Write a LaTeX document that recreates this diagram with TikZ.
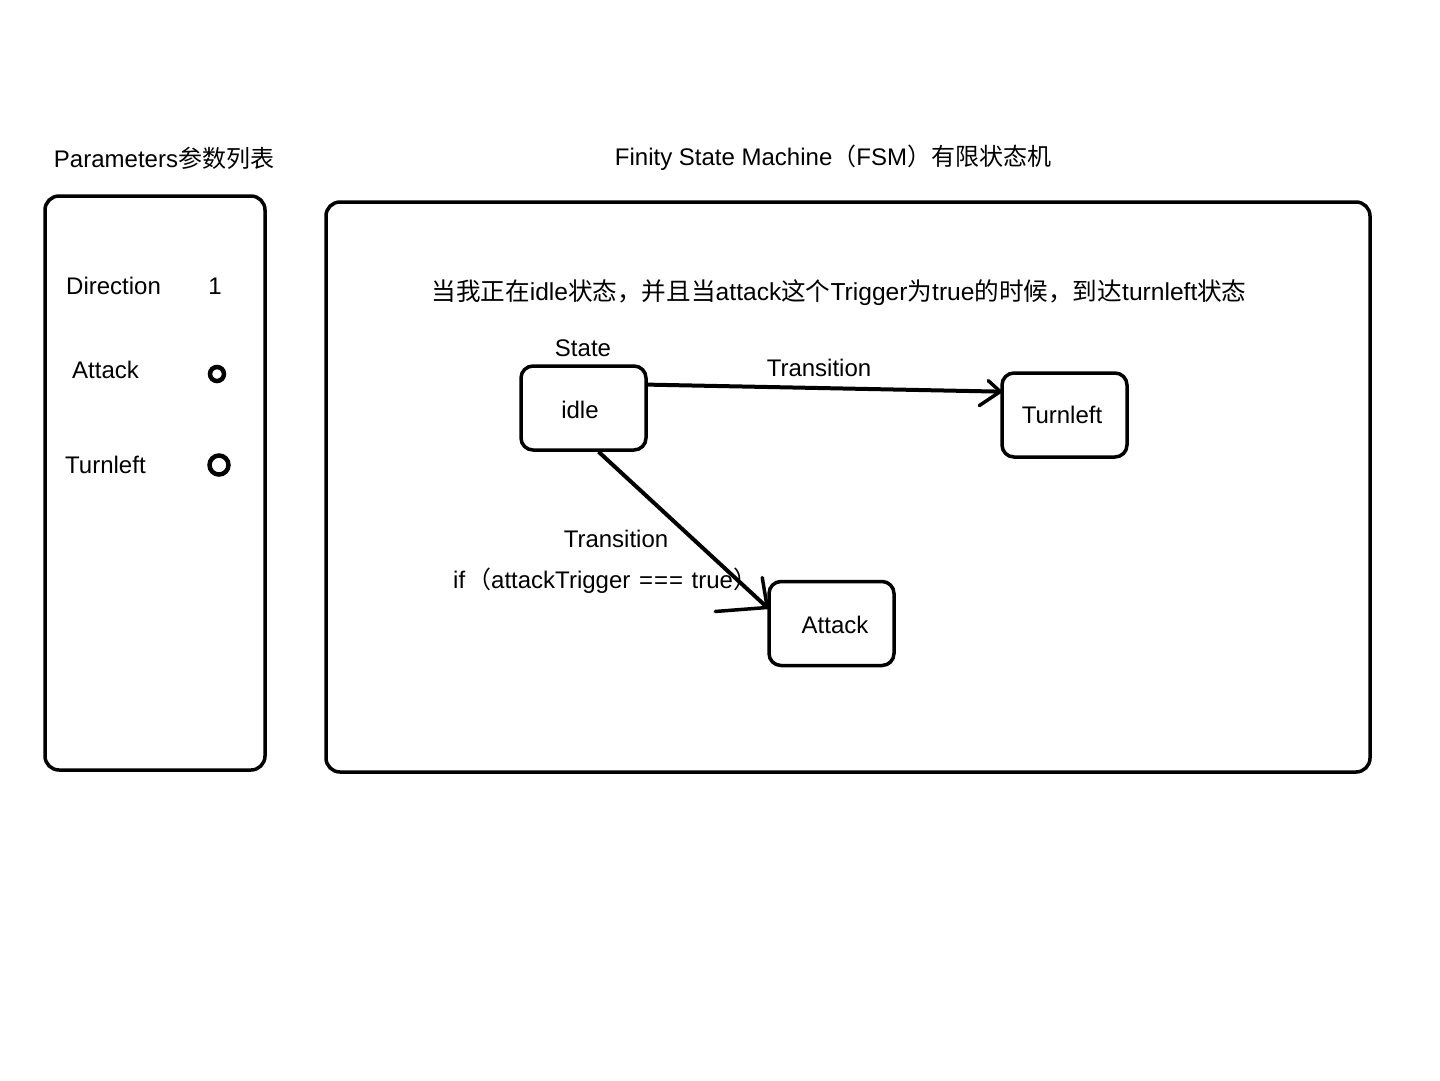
\documentclass[tikz,border=0pt]{standalone}
\usepackage{fontspec}
\setmainfont{Liberation Sans}
\newfontfamily\cjk{Noto Sans CJK SC}
\begin{document}
\begin{tikzpicture}[x=1pt,y=-1pt,
  panel/.style={draw, line width=3.5pt, rounded corners=14pt, inner sep=0pt},
  statebox/.style={draw, line width=3.5pt, rounded corners=12pt,
    minimum width=125pt, minimum height=84pt, inner sep=0pt},
  lbl/.style={font=\fontsize{24}{28}\selectfont, inner sep=0pt},
  link/.style={line width=4pt},
  barb/.style={line width=3.5pt, line cap=round},
  toggle/.style={draw, circle, line width=4.5pt, inner sep=0pt}]
\useasboundingbox[fill=white] (0,0) rectangle (1440,1080);

% titles
\node[lbl] (ptitle) at (164,158) {Parameters{\cjk 参数列表}};
\node[lbl] (ftitle) at (833,158) {Finity State Machine{\cjk （}FSM{\cjk ）有限状态机}};

% parameter panel
\node[panel, minimum width=220pt, minimum height=574pt] (params) at (155,483) {};
\node[lbl, anchor=west] (pdir) at (66,286) {Direction};
\node[lbl] (pdirv) at (215,286) {1};
\node[lbl, anchor=west] (patk) at (72,370) {Attack};
\node[toggle, minimum size=14pt] (patkv) at (217,374) {};
\node[lbl, anchor=west] (ptl) at (65,465) {Turnleft};
\node[toggle, minimum size=19pt] (ptlv) at (219,465) {};

% state machine panel
\node[panel, minimum width=1044pt, minimum height=570pt] (fsm) at (848,487) {};
\node[lbl, font=\fontsize{24.6}{28}\selectfont] (note) at (839,293)
  {{\cjk 当我正在}idle{\cjk 状态，并且当}attack{\cjk 这个}Trigger{\cjk 为}true{\cjk 的时候，到达}turnleft{\cjk 状态}};

% states
\node[statebox] (idle) at (583.5,408) {};
\node[lbl] (idletxt) at (580,410) {idle};
\node[lbl] (statelbl) at (583,348) {State};
\node[statebox] (tl) at (1064.5,415) {};
\node[lbl] (tltxt) at (1062,415) {Turnleft};
\node[statebox] (atk) at (831.5,623.5) {};
\node[lbl] (atktxt) at (835,625) {Attack};

% transition idle -> Turnleft
\draw[link] (idle.20) -- (tl.160);
\draw[barb] (tl.160) -- ++(-12,-11);
\draw[barb] (tl.160) -- ++(-21,14);
\node[lbl] (t1) at (819,368) {Transition};

% transition idle -> Attack
\draw[link] (idle.-71) -- (atk.166);
\draw[barb] (atk.166) -- ++(-52,4);
\draw[barb] (atk.166) -- ++(-5,-30);
\node[lbl] (t2) at (616,539) {Transition};
\node[lbl, anchor=west] (cond) at (453,581)
  {if\hspace{2pt}{\cjk （}attackTrigger\hspace{2pt} =\hspace{1pt}=\hspace{1pt}=\hspace{2pt} true{\cjk ）}};
\end{tikzpicture}
\end{document}
